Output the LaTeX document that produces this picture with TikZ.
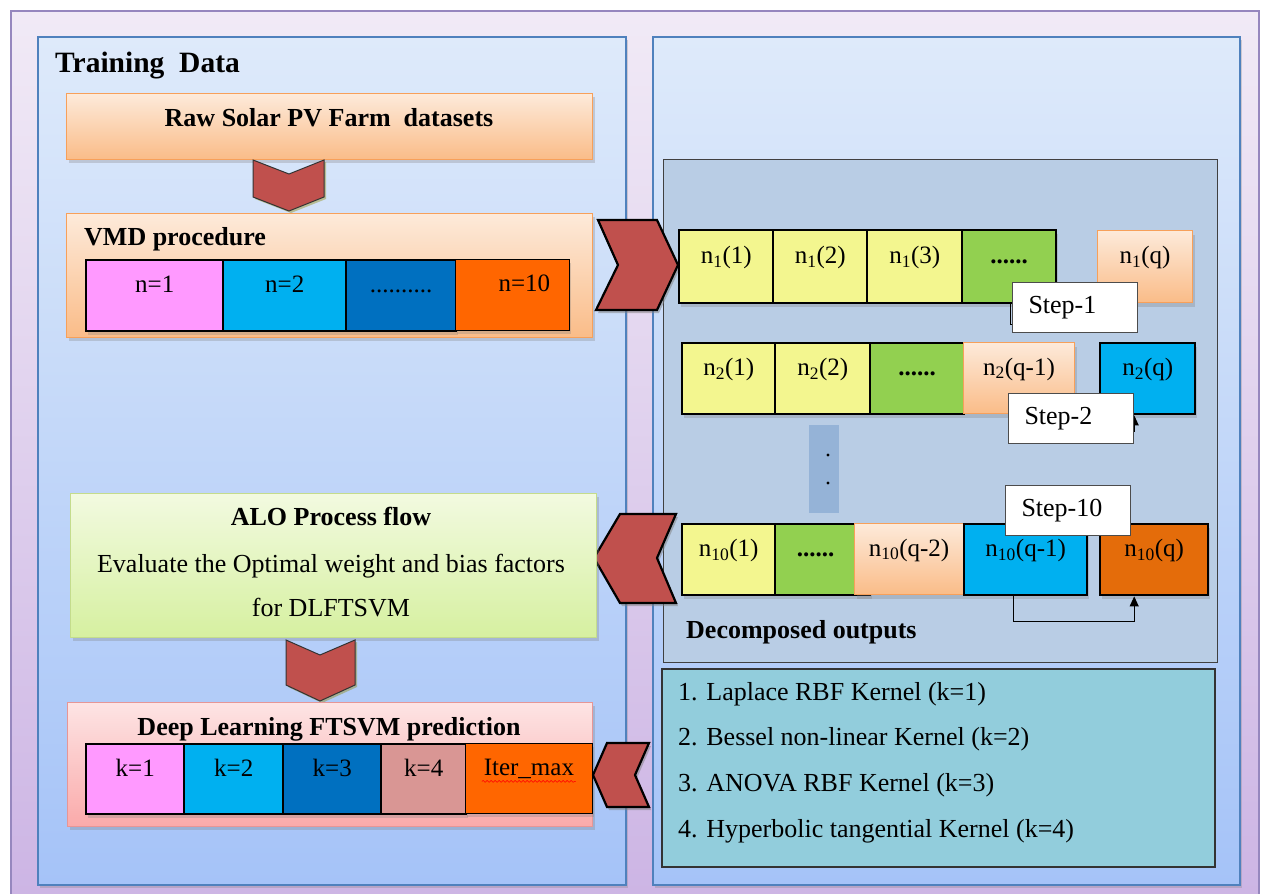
\documentclass[tikz,border=0pt]{standalone}
\usepackage{fontspec}
\setmainfont{Liberation Serif}
\usetikzlibrary{shadows,arrows.meta,positioning,calc,decorations.pathmorphing}
\definecolor{chevred}{RGB}{192,80,77}
\definecolor{cpink}{RGB}{255,153,255}
\definecolor{ccyan}{RGB}{0,176,240}
\definecolor{cblue}{RGB}{0,112,192}
\definecolor{corange}{RGB}{255,102,0}
\definecolor{cdorange}{RGB}{228,108,10}
\definecolor{crose}{RGB}{217,150,148}
\definecolor{cyellow}{RGB}{243,246,143}
\definecolor{cgreen}{RGB}{146,208,80}
\definecolor{peachtop}{RGB}{253,234,218}
\definecolor{peachbot}{RGB}{250,188,136}
\definecolor{peachline}{RGB}{247,160,90}
\definecolor{paneltop}{RGB}{222,234,250}
\definecolor{panelbot}{RGB}{165,195,248}
\definecolor{panelline}{RGB}{79,129,189}
\definecolor{frametop}{RGB}{241,234,246}
\definecolor{framebot}{RGB}{204,180,228}
\definecolor{frameline}{RGB}{150,135,190}
\definecolor{decompfill}{RGB}{185,205,229}
\definecolor{kernfill}{RGB}{146,205,220}
\definecolor{dotsfill}{RGB}{149,179,215}
\definecolor{greentop}{RGB}{242,250,224}
\definecolor{greenbot}{RGB}{214,240,160}
\definecolor{greenline}{RGB}{196,220,140}
\definecolor{pinktop}{RGB}{253,228,228}
\definecolor{pinkbot}{RGB}{250,170,170}
\definecolor{pinkline}{RGB}{230,150,150}

\tikzset{
  box/.style={anchor=north west, inner sep=0pt, line width=1.2pt,
    drop shadow={shadow xshift=2pt,shadow yshift=-3pt,opacity=0.3}},
  peachbox/.style={box, draw=peachline, top color=peachtop, bottom color=peachbot},
  greenbox/.style={box, draw=greenline, top color=greentop, bottom color=greenbot},
  pinkbox/.style={box, draw=pinkline, top color=pinktop, bottom color=pinkbot},
  panel/.style={draw=panelline, line width=1.2pt, top color=paneltop, bottom color=panelbot,
    drop shadow={shadow xshift=2pt,shadow yshift=-3pt,opacity=0.3}},
  cell/.style={anchor=north west, draw=black, line width=2.4pt, inner sep=0pt,
    minimum height=71pt, text height=12pt, text depth=18pt,
    font=\fontsize{25}{30}\selectfont,
    drop shadow={shadow xshift=2pt,shadow yshift=-4pt,opacity=0.3}},
  thincell/.style={cell, line width=0.8pt},
  peachcell/.style={cell, line width=1pt, draw=peachline, top color=peachtop, bottom color=peachbot},
  stepbox/.style={anchor=north west, draw=black!70, fill=white, line width=1pt,
    minimum height=50pt, text width=93pt, inner xsep=16pt, align=left,
    font=\fontsize{26}{30}\selectfont},
  chev/.style={fill=chevred, draw=black, line width=2.2pt, line join=miter,
    drop shadow={shadow xshift=2pt,shadow yshift=-3pt,opacity=0.5}},
  downchev/.style={fill=chevred, draw=black!80, line width=1pt,
    drop shadow={shadow xshift=2pt,shadow yshift=-2pt,opacity=0.4,fill=olive}},
  head/.style={font=\bfseries\fontsize{26}{30}\selectfont, anchor=base, inner sep=0pt},
  txt/.style={font=\fontsize{26}{30}\selectfont, anchor=base west, inner sep=0pt},
  elbow/.style={line width=1pt, -{Triangle[length=10pt,width=9pt]}},
  wavy/.style={red, line width=0.6pt, decorate, decoration={snake, amplitude=0.9pt, segment length=4pt}}
}

\begin{document}
\begin{tikzpicture}[x=1pt,y=-1pt]
\useasboundingbox (0,0) rectangle (1262,894);

% frame and panels
\draw[frameline, line width=1.5pt, top color=frametop, bottom color=framebot] (11,11) rectangle (1259,910);
\draw[panel] (38,37) rectangle (626,885);
\draw[panel] (653,37) rectangle (1240,885);
\draw[draw=black!75, line width=1pt, fill=decompfill] (663,159) rectangle (1217,662);
\draw[draw=black!80, line width=1.5pt, fill=kernfill] (662,669) rectangle (1215,867);

\node[head, anchor=base west, font=\bfseries\fontsize{29.5}{32}\selectfont] (title) at (55,72) {Training\ \ Data};

% raw data
\node[peachbox, minimum width=526pt, minimum height=66pt] (raw) at (66,93) {};
\node[head] (rawlabel) at (329,126) {Raw Solar PV Farm\ \ datasets};
\draw[downchev] (253,160) -- (289,174) -- (324,160) -- (324,197) -- (289,211) -- (253,197) -- cycle;

% VMD modes
\node[peachbox, minimum width=526pt, minimum height=124pt] (vmd) at (66,213) {};
\node[head, anchor=base west] (vmdlabel) at (84,245) {VMD procedure};
\foreach \x/\w/\c/\t [count=\i] in {85/137/cpink/{n=1}, 222/123/ccyan/{n=2}, 345/110/cblue/{..........}}
  \node[cell, fill=\c, minimum width=\w] (v\i) at (\x,259) {\t};
\node[thincell, fill=corange, minimum width=114pt] (v4) at (455,259) {\hspace*{24pt}n=10};

\draw[chev] (598,220) -- (657,220) -- (678,265) -- (657,310) -- (596,310) -- (618,265) -- cycle;

% decomposed outputs, step 1
\foreach \x/\w/\t [count=\i] in {678/94/{n\textsubscript{1}(1)}, 772/94/{n\textsubscript{1}(2)}, 866/95/{n\textsubscript{1}(3)}}
  \node[cell, fill=cyellow, minimum width=\w, minimum height=73pt] (a\i) at (\x,229) {\t};
\node[cell, fill=cgreen, minimum width=94pt, minimum height=73pt] (a4) at (961,229) {\textbf{......}};
\node[peachcell, minimum width=95pt, minimum height=72pt] (a5) at (1097,230) {n\textsubscript{1}(q)};

% step 2
\foreach \x/\w/\t [count=\i] in {681/93/{n\textsubscript{2}(1)}, 774/95/{n\textsubscript{2}(2)}}
  \node[cell, fill=cyellow, minimum width=\w] (b\i) at (\x,342) {\t};
\node[cell, fill=cgreen, minimum width=94pt] (b3) at (869,342) {\textbf{......}};
\node[peachcell, minimum width=111pt] (b4) at (963,342) {n\textsubscript{2}(q-1)};
\node[cell, fill=ccyan, minimum width=95pt] (b5) at (1099,342) {n\textsubscript{2}(q)};

% vertical dots
\fill[dotsfill] (809,425) rectangle (839,513);
\fill (828,455) circle (1.6);
\fill (828,483) circle (1.6);

% step 10
\node[cell, fill=cyellow, minimum width=93pt] (c1) at (681,523) {n\textsubscript{10}(1)};
\node[cell, fill=cgreen, minimum width=95pt] (c2) at (774,523) {\textbf{......}\hspace*{14pt}};
\node[peachcell, minimum width=109pt] (c3) at (854,523) {n\textsubscript{10}(q-2)};
\node[cell, fill=ccyan, minimum width=123pt] (c4) at (963,523) {n\textsubscript{10}(q-1)};
\node[cell, fill=cdorange, minimum width=108pt] (c5) at (1099,523) {n\textsubscript{10}(q)};

\draw[elbow] ([xshift=1pt]a4.south) -- ++(0,20) -| ([xshift=-14pt]a5.south);
\draw[elbow] ([xshift=-6.5pt]b4.south) -- ++(0,17) -| ([xshift=-13.5pt]b5.south);
\draw[elbow] ([xshift=-12.5pt]c4.south) -- ++(0,25) -| ([xshift=-20pt]c5.south);

\node[stepbox] (step1) at (1012,282) {Step-1};
\node[stepbox] (step2) at (1008,393) {Step-2};
\node[stepbox] (step10) at (1005,485) {Step-10};

\node[head, anchor=base west] (decomp) at (686,638) {Decomposed outputs};

\draw[chev] (594,558) -- (620,514) -- (676,514) -- (657,558) -- (676,603) -- (620,603) -- cycle;

% ALO
\node[greenbox, minimum width=526pt, minimum height=144pt] (alo) at (70,493) {};
\node[head] (alohead) at (331,525) {ALO Process flow};
\node[txt, anchor=base] (aloline1) at (331,572) {Evaluate the Optimal weight and bias factors};
\node[txt, anchor=base] (aloline2) at (331,616) {for DLFTSVM};
\draw[downchev] (286,640) -- (320,655) -- (355,640) -- (355,685) -- (320,701) -- (286,685) -- cycle;

% deep learning FTSVM
\node[pinkbox, minimum width=525pt, minimum height=124pt] (deep) at (67,702) {};
\node[head] (deephead) at (329,735) {Deep Learning FTSVM prediction};
\foreach \x/\w/\c/\t [count=\i] in {85/98/cpink/{k=1}, 183/99/ccyan/{k=2}, 282/98/cblue/{k=3}, 380/85/crose/{k=4}}
  \node[cell, fill=\c, minimum width=\w, minimum height=70pt] (k\i) at (\x,743) {\t};
\node[thincell, fill=corange, minimum width=127pt, minimum height=70pt] (k5) at (465,743) {Iter\_max};
\draw[wavy] ([xshift=-47pt,yshift=-3pt]k5.center) -- ([xshift=47pt,yshift=-3pt]k5.center);

\draw[chev] (593,775) -- (607,743) -- (649,743) -- (635,775) -- (649,807) -- (607,807) -- cycle;

% kernels
\foreach \t [count=\i] in {{1. Laplace RBF Kernel (k=1)}, {2. Bessel non-linear Kernel (k=2)}, {3. ANOVA RBF Kernel (k=3)}, {4. Hyperbolic tangential Kernel (k=4)}}
  \node[txt] (kern\i) at (678,{700+45.7*(\i-1)}) {\t};
\end{tikzpicture}
\end{document}
